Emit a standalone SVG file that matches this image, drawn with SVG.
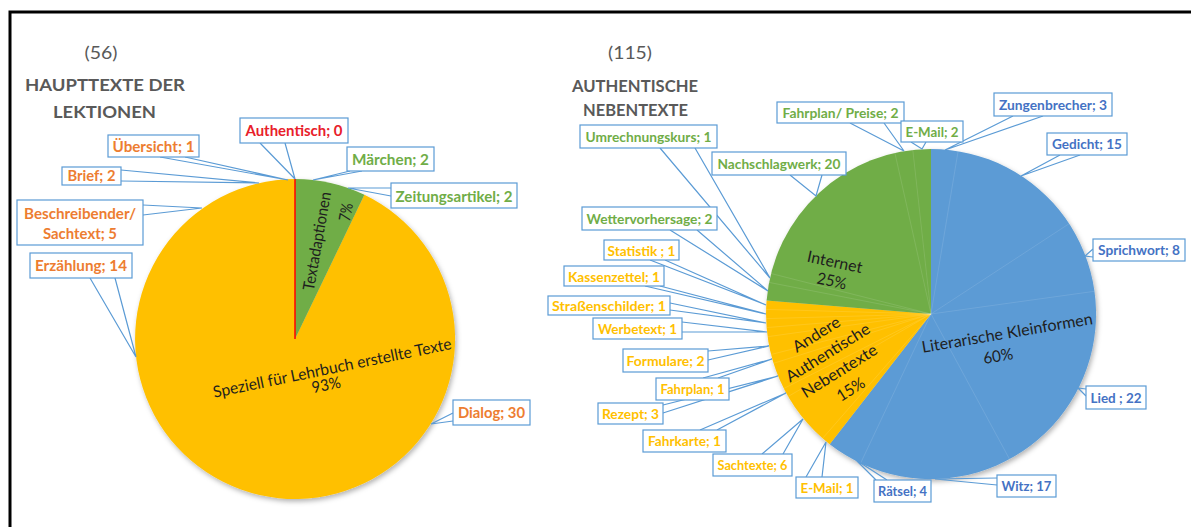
<svg xmlns="http://www.w3.org/2000/svg" width="1191" height="527" viewBox="0 0 1191 527">
<defs>
<style>
.box{fill:#fff;stroke:#5B9BD5;stroke-width:1.2}
.lead{fill:none;stroke:#5B9BD5;stroke-width:1.2;stroke-linejoin:miter}
.lb{font-family:Lato,"Liberation Sans",sans-serif;font-weight:700;text-anchor:middle}
.s1{font-size:15px}
.s2{font-size:14px}
.or{fill:#ED7D31}.gr{fill:#70AD47}.ye{fill:#FFC000}.bl{fill:#4472C4}.rd{fill:#E8202A}
.in{font-family:Lato,"Liberation Sans",sans-serif;font-size:16px;fill:#1e1e1e;text-anchor:middle;dominant-baseline:central}
.ti{font-family:Lato,"Liberation Sans",sans-serif;font-weight:700;font-size:17.5px;fill:#595959;text-anchor:middle}
.nu{font-family:Lato,"Liberation Sans",sans-serif;font-size:17px;fill:#595959;text-anchor:middle}
.sep{stroke:#fff;stroke-opacity:0.14;stroke-width:0.8}
</style>
<filter id="sh" x="-15%" y="-15%" width="135%" height="135%">
<feDropShadow dx="1.5" dy="2.5" stdDeviation="2.5" flood-color="#000" flood-opacity="0.3"/>
</filter>
</defs>
<rect width="1191" height="527" fill="#fff"/>
<path d="M10 527V12H1191" fill="none" stroke="#000" stroke-width="3"/>

<g id="title-left">
<text class="nu" x="101" y="59" textLength="33" lengthAdjust="spacingAndGlyphs">(56)</text>
<text class="ti" x="105" y="91" textLength="160" lengthAdjust="spacingAndGlyphs">HAUPTTEXTE DER</text>
<text class="ti" x="104.5" y="118" textLength="103" lengthAdjust="spacingAndGlyphs">LEKTIONEN</text>
</g>
<g id="title-right">
<text class="nu" x="630" y="59" textLength="44" lengthAdjust="spacingAndGlyphs">(115)</text>
<text class="ti" x="635" y="92" textLength="126" lengthAdjust="spacingAndGlyphs">AUTHENTISCHE</text>
<text class="ti" x="635.5" y="116" textLength="105" lengthAdjust="spacingAndGlyphs">NEBENTEXTE</text>
</g>

<g id="pie-left">
<g filter="url(#sh)">
<path d="M295 339L364.4 194.8A160 160 0 1 1 295 179Z" fill="#FFC000"/>
<path d="M295 339L295 179A160 160 0 0 1 364.4 194.8Z" fill="#70AD47"/>
</g>
<path d="M295 339V179" stroke="#FF0000" stroke-width="1.5"/>
<text class="in" transform="translate(316,241) rotate(-80)" textLength="100" lengthAdjust="spacingAndGlyphs">Textadaptionen</text>
<text class="in" transform="translate(345,212) rotate(-80)" textLength="18" lengthAdjust="spacingAndGlyphs">7%</text>
<text class="in" transform="translate(332,367) rotate(-11.6)" textLength="243" lengthAdjust="spacingAndGlyphs">Speziell für Lehrbuch erstellte Texte</text>
<text class="in" transform="translate(326,384) rotate(-11.6)" textLength="29" lengthAdjust="spacingAndGlyphs">93%</text>
</g>

<g id="pie-right">
<g filter="url(#sh)">
<path d="M931 314L931 149A165 165 0 1 1 829.7 444.2Z" fill="#5B9BD5"/>
<path d="M931 314L829.7 444.2A165 165 0 0 1 766.6 300.4Z" fill="#FFC000"/>
<path d="M931 314L766.6 300.4A165 165 0 0 1 931 149Z" fill="#70AD47"/>
</g>
<g class="sep">
<path d="M931 314L958.1 151.2M931 314L1069.1 223.7M931 314L1094.4 291.3M931 314L1009.5 459.1M931 314L860.6 463.2"/>
<path d="M931 314L822.6 438.4M931 314L788.1 396.5M931 314L783.8 388.5M931 314L773.5 363.3M931 314L771 354.5M931 314L767.6 336.7M931 314L766.6 327.6M931 314L766.1 318.6M931 314L766.1 309.4"/>
<path d="M931 314L769 282.4M931 314L771 273.5M931 314L894.9 153M931 314L912.8 150"/>
</g>
<text class="in" transform="translate(835,261) rotate(12)" textLength="56" lengthAdjust="spacingAndGlyphs">Internet</text>
<text class="in" transform="translate(832,280) rotate(12)" textLength="30" lengthAdjust="spacingAndGlyphs">25%</text>
<g transform="translate(833,361) rotate(-32)">
<text class="in" x="0" y="-32.4" textLength="53" lengthAdjust="spacingAndGlyphs">Andere</text>
<text class="in" x="0" y="-10.8" textLength="96" lengthAdjust="spacingAndGlyphs">Authentische</text>
<text class="in" x="0" y="10.8" textLength="86" lengthAdjust="spacingAndGlyphs">Nebentexte</text>
<text class="in" x="0" y="32.4" textLength="30" lengthAdjust="spacingAndGlyphs">15%</text>
</g>
<text class="in" transform="translate(1007,332) rotate(-9.6)" textLength="173" lengthAdjust="spacingAndGlyphs">Literarische Kleinformen</text>
<text class="in" transform="translate(998,355) rotate(-9.6)" textLength="30" lengthAdjust="spacingAndGlyphs">60%</text>
</g>

<g id="connectors">
<polyline class="lead" points="260,143 295,179 285,143"/>
<polyline class="lead" points="160,157 288,180 185,157"/>
<polyline class="lead" points="121,170 259,183 121,181"/>
<polyline class="lead" points="143,205 202,208 143,215"/>
<polyline class="lead" points="90,278 136,357 115,278"/>
<polyline class="lead" points="350,171 313,180 362,171"/>
<polyline class="lead" points="391,188 348,188 391,196"/>
<polyline class="lead" points="453,413 431,424 453,421"/>
<polyline class="lead" points="660,148 770,278 695,148"/>
<polyline class="lead" points="790,175 816,196 822,175"/>
<polyline class="lead" points="850,123 904,151 884,123"/>
<polyline class="lead" points="911,142 922,149 926,142"/>
<polyline class="lead" points="1013,116 945,150 1043,116"/>
<polyline class="lead" points="1060,155 1021,176 1080,155"/>
<polyline class="lead" points="1093,249 1085,256 1093,257"/>
<polyline class="lead" points="1086,389 1078,388 1086,396"/>
<polyline class="lead" points="997,478 935,479 997,485"/>
<polyline class="lead" points="876,480 856,460 887,480"/>
<polyline class="lead" points="806,477 826,442 822,477"/>
<polyline class="lead" points="762,454 803,419 783,454"/>
<polyline class="lead" points="700,430 786,393 717,430"/>
<polyline class="lead" points="663,405 778,376 663,413"/>
<polyline class="lead" points="703,378 772,359 718,378"/>
<polyline class="lead" points="708,351 769,346 708,360"/>
<polyline class="lead" points="682,322 767,332 682,332"/>
<polyline class="lead" points="670,303 766,323 670,310"/>
<polyline class="lead" points="645,286 766,314 660,286"/>
<polyline class="lead" points="650,260 766,305 665,260"/>
<polyline class="lead" points="670,230 768,291 697,230"/>
</g>

<g id="lbl-authentisch"><rect class="box" x="240" y="118" width="108" height="25"/><text class="lb s1 rd" x="294" y="135.5" textLength="97" lengthAdjust="spacingAndGlyphs">Authentisch; 0</text></g>
<g id="lbl-uebersicht"><rect class="box" x="108" y="135" width="91" height="22"/><text class="lb s1 or" x="153.5" y="151.5" textLength="82" lengthAdjust="spacingAndGlyphs">Übersicht; 1</text></g>
<g id="lbl-brief"><rect class="box" x="62" y="167" width="59" height="18"/><text class="lb s1 or" x="91.5" y="180.5" textLength="48" lengthAdjust="spacingAndGlyphs">Brief; 2</text></g>
<g id="lbl-beschreibender"><rect class="box" x="17" y="200" width="126" height="45"/><text class="lb s1 or" x="80" y="218.5" textLength="112" lengthAdjust="spacingAndGlyphs">Beschreibender/</text><text class="lb s1 or" x="80" y="238.5" textLength="74" lengthAdjust="spacingAndGlyphs">Sachtext; 5</text></g>
<g id="lbl-erzaehlung"><rect class="box" x="30" y="253" width="102" height="25"/><text class="lb s1 or" x="81" y="271" textLength="92" lengthAdjust="spacingAndGlyphs">Erzählung; 14</text></g>
<g id="lbl-maerchen"><rect class="box" x="347" y="147" width="87" height="24"/><text class="lb s1 gr" x="390.5" y="164.5" textLength="77" lengthAdjust="spacingAndGlyphs">Märchen; 2</text></g>
<g id="lbl-zeitungsartikel"><rect class="box" x="391" y="183" width="126" height="25"/><text class="lb s1 gr" x="454" y="201.5" textLength="117" lengthAdjust="spacingAndGlyphs">Zeitungsartikel; 2</text></g>
<g id="lbl-dialog"><rect class="box" x="453" y="400" width="77" height="25"/><text class="lb s1 or" x="491.5" y="418" textLength="67" lengthAdjust="spacingAndGlyphs">Dialog; 30</text></g>

<g id="lbl-umrechnungskurs"><rect class="box" x="580" y="125" width="137" height="23"/><text class="lb s2 gr" x="648.5" y="141.5" textLength="126" lengthAdjust="spacingAndGlyphs">Umrechnungskurs; 1</text></g>
<g id="lbl-nachschlagwerk"><rect class="box" x="712" y="152" width="134" height="23"/><text class="lb s2 gr" x="779" y="168.5" textLength="123" lengthAdjust="spacingAndGlyphs">Nachschlagwerk; 20</text></g>
<g id="lbl-fahrplan-preise"><rect class="box" x="777" y="102" width="127" height="21"/><text class="lb s2 gr" x="840.5" y="117.5" textLength="116" lengthAdjust="spacingAndGlyphs">Fahrplan/ Preise; 2</text></g>
<g id="lbl-email2"><rect class="box" x="901" y="121" width="62" height="21"/><text class="lb s2 gr" x="932" y="136.5" textLength="53" lengthAdjust="spacingAndGlyphs">E-Mail; 2</text></g>
<g id="lbl-zungenbrecher"><rect class="box" x="994" y="93" width="118" height="23"/><text class="lb s2 bl" x="1053" y="109.5" textLength="108" lengthAdjust="spacingAndGlyphs">Zungenbrecher; 3</text></g>
<g id="lbl-gedicht"><rect class="box" x="1047" y="133" width="80" height="22"/><text class="lb s2 bl" x="1087" y="149" textLength="70" lengthAdjust="spacingAndGlyphs">Gedicht; 15</text></g>
<g id="lbl-sprichwort"><rect class="box" x="1093" y="239" width="92" height="22"/><text class="lb s2 bl" x="1139" y="255" textLength="82" lengthAdjust="spacingAndGlyphs">Sprichwort; 8</text></g>
<g id="lbl-lied"><rect class="box" x="1086" y="386" width="60" height="23"/><text class="lb s2 bl" x="1116" y="402.5" textLength="51" lengthAdjust="spacingAndGlyphs">Lied ; 22</text></g>
<g id="lbl-witz"><rect class="box" x="997" y="475" width="59" height="22"/><text class="lb s2 bl" x="1026.5" y="491" textLength="50" lengthAdjust="spacingAndGlyphs">Witz; 17</text></g>
<g id="lbl-raetsel"><rect class="box" x="874" y="480" width="57" height="22"/><text class="lb s2 bl" x="902.5" y="496" textLength="49" lengthAdjust="spacingAndGlyphs">Rätsel; 4</text></g>
<g id="lbl-email1"><rect class="box" x="796" y="477" width="62" height="21"/><text class="lb s2 ye" x="827" y="492.5" textLength="53" lengthAdjust="spacingAndGlyphs">E-Mail; 1</text></g>
<g id="lbl-sachtexte"><rect class="box" x="713" y="454" width="79" height="22"/><text class="lb s2 ye" x="752.5" y="470" textLength="70" lengthAdjust="spacingAndGlyphs">Sachtexte; 6</text></g>
<g id="lbl-fahrkarte"><rect class="box" x="643" y="430" width="83" height="22"/><text class="lb s2 ye" x="684.5" y="446" textLength="73" lengthAdjust="spacingAndGlyphs">Fahrkarte; 1</text></g>
<g id="lbl-rezept"><rect class="box" x="598" y="403" width="65" height="21"/><text class="lb s2 ye" x="630.5" y="418.5" textLength="57" lengthAdjust="spacingAndGlyphs">Rezept; 3</text></g>
<g id="lbl-fahrplan"><rect class="box" x="656" y="378" width="73" height="22"/><text class="lb s2 ye" x="692.5" y="394" textLength="64" lengthAdjust="spacingAndGlyphs">Fahrplan; 1</text></g>
<g id="lbl-formulare"><rect class="box" x="623" y="349" width="85" height="23"/><text class="lb s2 ye" x="665.5" y="365.5" textLength="78" lengthAdjust="spacingAndGlyphs">Formulare; 2</text></g>
<g id="lbl-werbetext"><rect class="box" x="593" y="318" width="89" height="21"/><text class="lb s2 ye" x="637.5" y="333.5" textLength="79" lengthAdjust="spacingAndGlyphs">Werbetext; 1</text></g>
<g id="lbl-strassenschilder"><rect class="box" x="548" y="296" width="122" height="19"/><text class="lb s2 ye" x="609" y="310.5" textLength="114" lengthAdjust="spacingAndGlyphs">Straßenschilder; 1</text></g>
<g id="lbl-kassenzettel"><rect class="box" x="564" y="266" width="100" height="20"/><text class="lb s2 ye" x="614" y="281.5" textLength="92" lengthAdjust="spacingAndGlyphs">Kassenzettel; 1</text></g>
<g id="lbl-statistik"><rect class="box" x="604" y="240" width="75" height="20"/><text class="lb s2 ye" x="641.5" y="255.5" textLength="68" lengthAdjust="spacingAndGlyphs">Statistik ; 1</text></g>
<g id="lbl-wettervorhersage"><rect class="box" x="582" y="207" width="135" height="23"/><text class="lb s2 gr" x="649.5" y="223.5" textLength="126" lengthAdjust="spacingAndGlyphs">Wettervorhersage; 2</text></g>
</svg>
